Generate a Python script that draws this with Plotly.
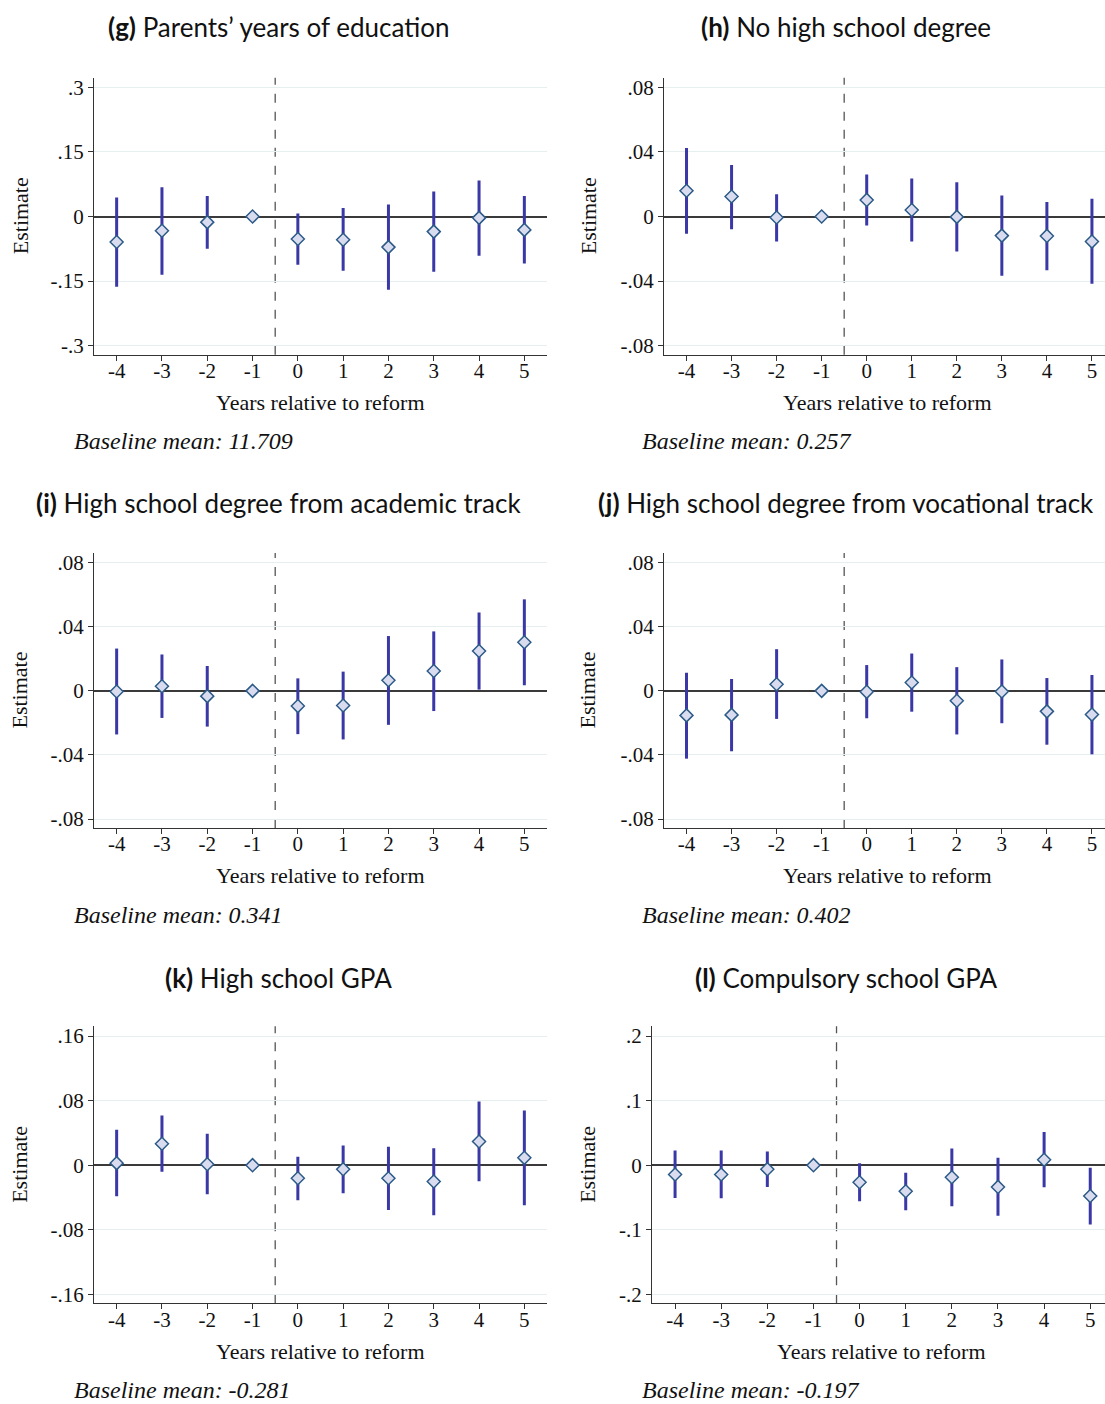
import plotly.graph_objects as go

W, H = 1105, 1404

years = [-4, -3, -2, -1, 0, 1, 2, 3, 4, 5]
year_labels = ["-4", "-3", "-2", "-1", "0", "1", "2", "3", "4", "5"]

# (g) Parents' years of education
g_est = [-0.059, -0.033, -0.013, 0.0, -0.052, -0.054, -0.071, -0.035, -0.003, -0.031]
g_lo = [-0.163, -0.135, -0.075, 0.0, -0.112, -0.126, -0.170, -0.128, -0.091, -0.109]
g_hi = [0.044, 0.068, 0.048, 0.0, 0.007, 0.020, 0.028, 0.058, 0.084, 0.048]

# (h) No high school degree
h_est = [0.016, 0.0124, -0.0006, 0.0, 0.0103, 0.0041, -0.0002, -0.0118, -0.012, -0.0155]
h_lo = [-0.0107, -0.0078, -0.0155, 0.0, -0.0056, -0.0155, -0.0216, -0.0367, -0.0332, -0.0416]
h_hi = [0.0425, 0.032, 0.0138, 0.0, 0.026, 0.0235, 0.0212, 0.013, 0.009, 0.0111]

# (i) High school degree from academic track
i_est = [-0.0004, 0.0029, -0.0033, 0.0, -0.0095, -0.0091, 0.0066, 0.0124, 0.0249, 0.0303]
i_lo = [-0.0272, -0.0169, -0.0223, 0.0, -0.027, -0.0303, -0.0212, -0.0126, 0.0008, 0.0035]
i_hi = [0.0264, 0.0227, 0.0155, 0.0, 0.0078, 0.012, 0.0342, 0.0371, 0.0489, 0.0571]

# (j) High school degree from vocational track
j_est = [-0.0153, -0.015, 0.0041, 0.0, -0.0006, 0.0052, -0.0062, -0.0004, -0.0128, -0.0148]
j_lo = [-0.0423, -0.0377, -0.0175, 0.0, -0.0171, -0.013, -0.0272, -0.0202, -0.0336, -0.0396]
j_hi = [0.0113, 0.0074, 0.026, 0.0, 0.0161, 0.0233, 0.0148, 0.0196, 0.008, 0.0099]

# (k) High school GPA
k_est = [0.0025, 0.0265, 0.0012, 0.0, -0.0162, -0.005, -0.0162, -0.0203, 0.0294, 0.0091]
k_lo = [-0.0385, -0.0083, -0.036, 0.0, -0.0435, -0.0348, -0.0555, -0.0622, -0.0199, -0.0497]
k_hi = [0.0439, 0.0614, 0.039, 0.0, 0.0104, 0.0245, 0.0228, 0.0211, 0.0788, 0.0676]

# (l) Compulsory school GPA
l_est = [-0.0145, -0.0145, -0.0062, 0.0, -0.0264, -0.0404, -0.0187, -0.0337, 0.0083, -0.0477]
l_lo = [-0.0508, -0.0513, -0.0337, 0.0, -0.056, -0.070, -0.0637, -0.0782, -0.0342, -0.0917]
l_hi = [0.0228, 0.0228, 0.0212, 0.0, 0.0031, -0.0119, 0.0259, 0.0114, 0.0513, -0.0041]

g_ticks = [-0.3, -0.15, 0, 0.15, 0.3]
g_ticktext = ["-.3", "-.15", "0", ".15", ".3"]
h_ticks = [-0.08, -0.04, 0, 0.04, 0.08]
h_ticktext = ["-.08", "-.04", "0", ".04", ".08"]
k_ticks = [-0.16, -0.08, 0, 0.08, 0.16]
k_ticktext = ["-.16", "-.08", "0", ".08", ".16"]
l_ticks = [-0.2, -0.1, 0, 0.1, 0.2]
l_ticktext = ["-.2", "-.1", "0", ".1", ".2"]

letters = ["g", "h", "i", "j", "k", "l"]
titles = [
    "Parents’ years of education",
    "No high school degree",
    "High school degree from academic track",
    "High school degree from vocational track",
    "High school GPA",
    "Compulsory school GPA",
]
baselines = ["11.709", "0.257", "0.341", "0.402", "-0.281", "-0.197"]

panels = [
    (g_est, g_lo, g_hi, g_ticks, g_ticktext),
    (h_est, h_lo, h_hi, h_ticks, h_ticktext),
    (i_est, i_lo, i_hi, h_ticks, h_ticktext),
    (j_est, j_lo, j_hi, h_ticks, h_ticktext),
    (k_est, k_lo, k_hi, k_ticks, k_ticktext),
    (l_est, l_lo, l_hi, l_ticks, l_ticktext),
]

# layout geometry (pixels)
col_x = [(94, 547), (664, 1105), (94, 547), (664, 1105), (94, 547), (652, 1105)]
row_y = [(76, 354), (553, 829), (1028, 1306)]
x_ranges = [(-4.5, 5.5), (-4.5, 5.29), (-4.5, 5.5), (-4.5, 5.29), (-4.5, 5.5), (-4.5, 5.32)]
xtitle_cx = [320, 887, 320, 887, 320, 881]
title_cx = [278, 846]
ytitle_x = [20, 588]
base_x = [72, 640]
title_dy = [-51, -50, -49]

BAR = "#3a37a6"
MFILL = "#d9dcef"
MLINE = "#2c5a88"
AXC = "#333333"
GRID = "#e6eff0"
SERIF = "Liberation Serif"
SANS = "Lato"

fig = go.Figure()
annotations = []
shapes = []

def px_x(v):
    return v / W

def px_y(v):
    return 1 - v / H

for idx, (est, lo, hi, tv, tt) in enumerate(panels):
    n = idx + 1
    xa = "x" if n == 1 else f"x{n}"
    ya = "y" if n == 1 else f"y{n}"
    row = idx // 2
    col = idx % 2
    x0, x1 = col_x[idx]
    y0, y1 = row_y[row]
    T = tv[-1]

    err_plus = [h - e for h, e in zip(hi, est)]
    err_minus = [e - l for e, l in zip(est, lo)]

    fig.add_trace(go.Scatter(
        x=years, y=est, mode="markers", xaxis=xa, yaxis=ya,
        marker=dict(symbol="diamond", size=10, color=MFILL,
                    line=dict(color=MLINE, width=1.5)),
        error_y=dict(type="data", array=err_plus, arrayminus=err_minus,
                     symmetric=False, width=0, thickness=3, color=BAR),
        showlegend=False, hoverinfo="x+y",
    ))

    axis_common = dict(showline=True, linecolor=AXC, linewidth=1.3,
                       ticks="outside", ticklen=5, tickcolor=AXC, tickwidth=1.2,
                       tickfont=dict(family=SERIF, size=21, color="#111111"))
    fig.layout[("xaxis" if n == 1 else f"xaxis{n}")] = dict(
        domain=[px_x(x0), px_x(x1)], anchor=ya, range=list(x_ranges[idx]),
        tickvals=years, ticktext=year_labels, showgrid=False, zeroline=False,
        ticklabelstandoff=-8,
        **axis_common)
    fig.layout[("yaxis" if n == 1 else f"yaxis{n}")] = dict(
        domain=[px_y(y1), px_y(y0)], anchor=xa, range=[-1.07 * T, 1.075 * T],
        tickvals=tv, ticktext=tt, showgrid=True, gridcolor=GRID, gridwidth=1,
        zeroline=True, zerolinecolor="#3a3a3a", zerolinewidth=1.5,
        **axis_common)

    # vertical dashed line between -1 and 0
    shapes.append(dict(type="line", xref=xa, yref=f"{ya} domain",
                       x0=-0.5, x1=-0.5, y0=0, y1=1,
                       line=dict(color="#555555", width=1.3, dash="dash"), layer="below"))

    # panel title
    annotations.append(dict(
        xref="paper", yref="paper", x=px_x(title_cx[col]), y=px_y(y0 + title_dy[row]),
        text=f"<b>({letters[idx]})</b> {titles[idx]}", showarrow=False,
        xanchor="center", yanchor="middle",
        font=dict(family=SANS, size=26, color="#111111")))
    # x title
    annotations.append(dict(
        xref="paper", yref="paper", x=px_x(xtitle_cx[idx]),
        y=px_y(y1 + 48), text="Years relative to reform", showarrow=False,
        xanchor="center", yanchor="middle",
        font=dict(family=SERIF, size=22, color="#111111")))
    # y title
    annotations.append(dict(
        xref="paper", yref="paper", x=px_x(ytitle_x[col]), y=px_y((y0 + y1) / 2),
        text="Estimate", showarrow=False, textangle=-90,
        xanchor="center", yanchor="middle",
        font=dict(family=SERIF, size=22, color="#111111")))
    # baseline mean
    annotations.append(dict(
        xref="paper", yref="paper", x=px_x(base_x[col]), y=px_y(y1 + 87),
        text=f"<i>Baseline mean: {baselines[idx]}</i>", showarrow=False,
        xanchor="left", yanchor="middle",
        font=dict(family=SERIF, size=24, color="#111111")))

fig.update_layout(
    width=W, height=H,
    margin=dict(l=0, r=0, t=0, b=0),
    paper_bgcolor="white", plot_bgcolor="white",
    annotations=annotations, shapes=shapes,
    showlegend=False,
)

fig.write_html(
    "out.html",
    config={"displayModeBar": False},
    post_script="document.body.style.margin='0px';document.body.style.overflow='hidden';",
)
